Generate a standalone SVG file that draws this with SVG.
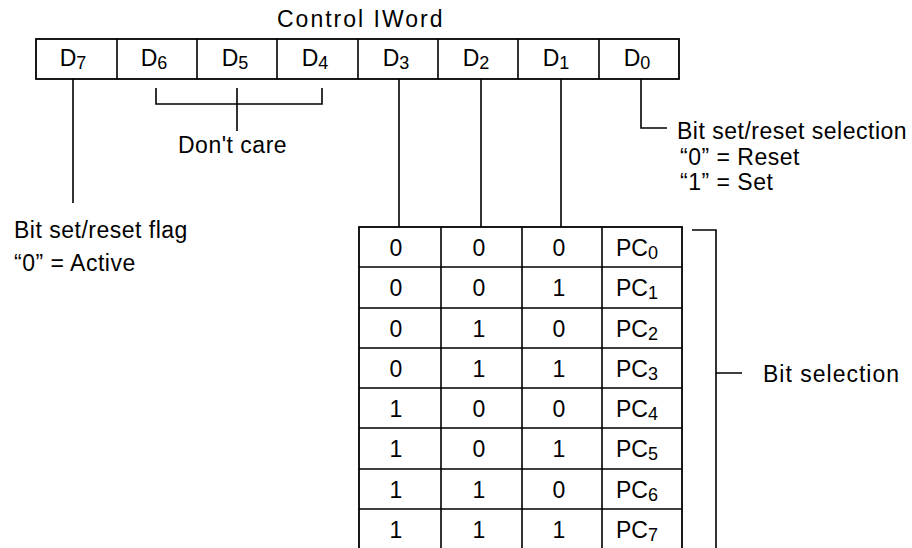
<svg xmlns="http://www.w3.org/2000/svg" width="912" height="548" viewBox="0 0 912 548">
<style>
text{font-family:"Liberation Sans",Arial,sans-serif;fill:#000}
.lbl{font-size:23px;letter-spacing:0.5px}
.cell{font-size:23px;text-anchor:middle}
.sub{font-size:18px}
.ln{stroke:#000;stroke-width:1.6;fill:none}
.box{stroke:#000;stroke-width:1.8;fill:#fff}
</style>
<rect width="912" height="548" fill="#fff"/>
<text class="lbl" x="277" y="27" font-size="21" style="letter-spacing:2px">Control IWord</text>
<g id="register">
<rect class="box" x="36" y="39" width="643" height="40"/>
<path class="ln" d="M117 39V79M197 39V79M277 39V79M358 39V79M438 39V79M518 39V79M599 39V79"/>
<text class="cell" x="73" y="66">D<tspan class="sub" dy="3">7</tspan></text>
<text class="cell" x="154" y="66">D<tspan class="sub" dy="3">6</tspan></text>
<text class="cell" x="235" y="66">D<tspan class="sub" dy="3">5</tspan></text>
<text class="cell" x="315" y="66">D<tspan class="sub" dy="3">4</tspan></text>
<text class="cell" x="396" y="66">D<tspan class="sub" dy="3">3</tspan></text>
<text class="cell" x="476" y="66">D<tspan class="sub" dy="3">2</tspan></text>
<text class="cell" x="556" y="66">D<tspan class="sub" dy="3">1</tspan></text>
<text class="cell" x="637" y="66">D<tspan class="sub" dy="3">0</tspan></text>
</g>
<g id="table">
<rect class="box" x="359" y="227" width="323" height="325"/>
<path class="ln" d="M441 227V552M522 227V552M602 227V552"/>
<path class="ln" d="M359 267H682M359 308H682M359 348H682M359 388H682M359 428H682M359 469H682M359 509H682"/>
<g class="rows">
<text class="cell" x="396" y="256">0</text><text class="cell" x="479" y="256">0</text><text class="cell" x="559" y="256">0</text><text class="cell" x="637" y="256">PC<tspan class="sub" dy="3">0</tspan></text>
<text class="cell" x="396" y="296">0</text><text class="cell" x="479" y="296">0</text><text class="cell" x="559" y="296">1</text><text class="cell" x="637" y="296">PC<tspan class="sub" dy="3">1</tspan></text>
<text class="cell" x="396" y="337">0</text><text class="cell" x="479" y="337">1</text><text class="cell" x="559" y="337">0</text><text class="cell" x="637" y="337">PC<tspan class="sub" dy="3">2</tspan></text>
<text class="cell" x="396" y="377">0</text><text class="cell" x="479" y="377">1</text><text class="cell" x="559" y="377">1</text><text class="cell" x="637" y="377">PC<tspan class="sub" dy="3">3</tspan></text>
<text class="cell" x="396" y="417">1</text><text class="cell" x="479" y="417">0</text><text class="cell" x="559" y="417">0</text><text class="cell" x="637" y="417">PC<tspan class="sub" dy="3">4</tspan></text>
<text class="cell" x="396" y="457">1</text><text class="cell" x="479" y="457">0</text><text class="cell" x="559" y="457">1</text><text class="cell" x="637" y="457">PC<tspan class="sub" dy="3">5</tspan></text>
<text class="cell" x="396" y="498">1</text><text class="cell" x="479" y="498">1</text><text class="cell" x="559" y="498">0</text><text class="cell" x="637" y="498">PC<tspan class="sub" dy="3">6</tspan></text>
<text class="cell" x="396" y="538">1</text><text class="cell" x="479" y="538">1</text><text class="cell" x="559" y="538">1</text><text class="cell" x="637" y="538">PC<tspan class="sub" dy="3">7</tspan></text>
</g>
</g>
<g id="connectors">
<path class="ln" d="M73 79V203"/>
<path class="ln" d="M156 88V104H322V88M237 88V131"/>
<path class="ln" d="M399 79V227M481 79V227M561 79V227"/>
<path class="ln" d="M641 79V128H667"/>
<path class="ln" d="M692 230H716V548M716 373H742"/>
</g>
<g id="labels">
<text class="lbl" x="178" y="153">Don't care</text>
<text class="lbl" x="677" y="139">Bit set/reset selection</text>
<text class="lbl" x="680" y="165">“0” = Reset</text>
<text class="lbl" x="680" y="190">“1” = Set</text>
<text class="lbl" x="14" y="238">Bit set/reset flag</text>
<text class="lbl" x="14" y="271">“0”  = Active</text>
<text class="lbl" x="763" y="382" style="letter-spacing:1px">Bit selection</text>
</g>
</svg>
